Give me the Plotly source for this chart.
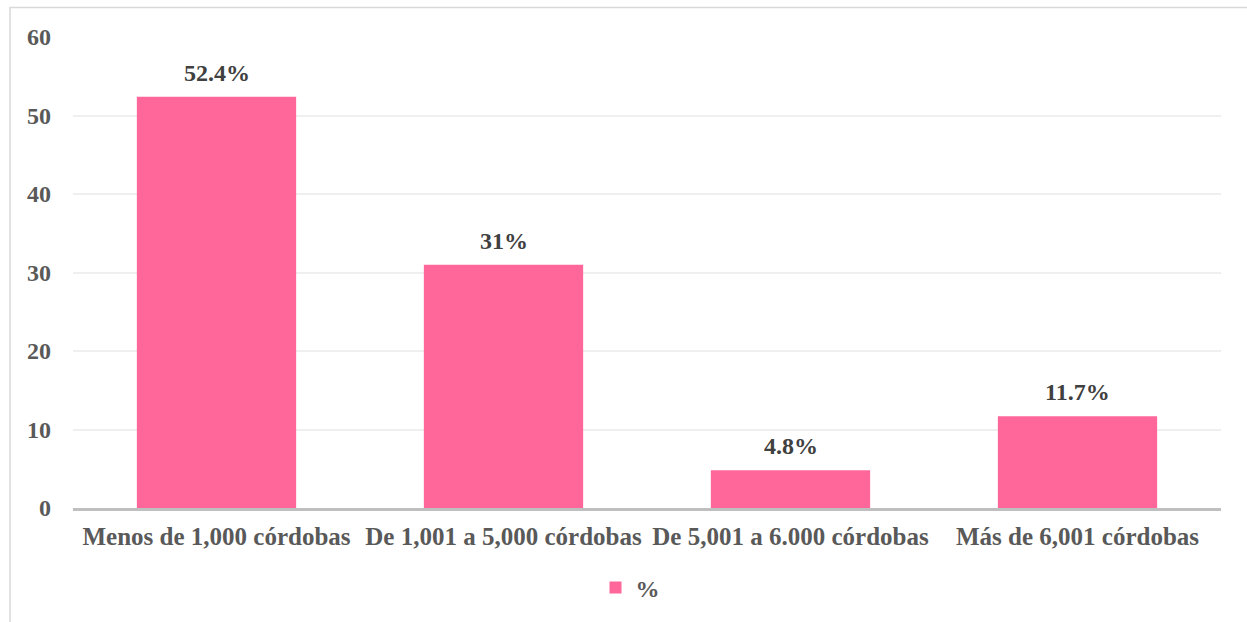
import plotly.graph_objects as go

categories = ["Menos de 1,000 córdobas", "De 1,001 a 5,000 córdobas",
              "De 5,001 a 6.000 córdobas", "Más de 6,001 córdobas"]
values = [52.4, 31, 4.8, 11.7]
labels = ["52.4%", "31%", "4.8%", "11.7%"]
series_name = "%"
y_ticks = [0, 10, 20, 30, 40, 50, 60]

W, H = 1247, 622
L, R, T, B = 73, 26, 37, 114
pw, ph = W - L - R, H - T - B

FONT = "Liberation Serif, Times New Roman, serif"
FS = 24

fig = go.Figure()
fig.add_trace(go.Bar(
    x=categories, y=values, name=series_name,
    marker=dict(color="#FF6699", line=dict(width=0)),
    showlegend=True,
))

for c, v, t in zip(categories, values, labels):
    fig.add_annotation(x=c, y=v, text=t, showarrow=False,
                       yanchor="bottom", yshift=9,
                       font=dict(family=FONT, size=FS, color="#404040", weight="bold"))

# outer chart border
fig.add_shape(type="rect", xref="paper", yref="paper",
              x0=(10 - L) / pw, x1=(W + 20 - L) / pw,
              y0=-(B + 20) / ph, y1=1 + (T - 7.5) / ph,
              line=dict(color="#D9D9D9", width=1.5), fillcolor="rgba(0,0,0,0)",
              layer="below")

tf = dict(family=FONT, size=FS, color="#595959", weight="bold")
tfx = dict(family=FONT, size=25, color="#595959", weight="bold")
fig.update_layout(
    width=W, height=H,
    margin=dict(l=L, r=R, t=T, b=B, autoexpand=False),
    paper_bgcolor="white", plot_bgcolor="white",
    bargap=0.445,
    font=dict(family=FONT, size=FS, color="#595959"),
    xaxis=dict(showgrid=False, showline=True, linecolor="#BFBFBF", linewidth=2.5,
               ticks="", tickfont=tfx, ticklabelstandoff=4, fixedrange=True),
    yaxis=dict(range=[0, 60], tickvals=y_ticks, showgrid=True, gridcolor="#EFEFEF",
               gridwidth=1.5, zeroline=False, showline=False, ticks="",
               tickfont=tf, ticklabelstandoff=21, fixedrange=True),
    legend=dict(orientation="h", x=0.5 - 17 / pw, xanchor="center", y=-(588 - T - ph) / ph,
                yanchor="middle", font=tf, itemwidth=30),
)

fig.write_html("out.html", config={"displayModeBar": False},
               post_script="document.body.style.margin='0';document.body.style.padding='0';")
